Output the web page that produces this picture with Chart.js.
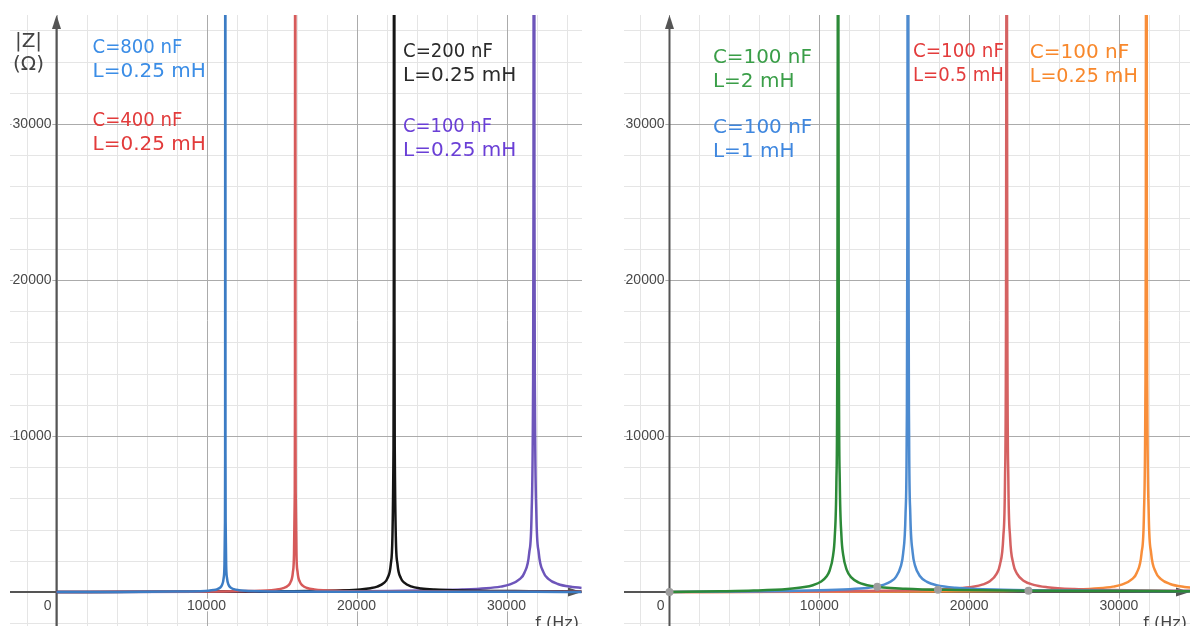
<!DOCTYPE html>
<html>
<head>
<meta charset="utf-8">
<script src="https://cdn.jsdelivr.net/npm/chart.js@4"></script>
<style>
  html, body { margin: 0; padding: 0; background: #fff; width: 1190px; height: 626px; overflow: hidden; }
  canvas { position: absolute; top: 15px; }
  #left { left: 10px; }
  #right { left: 624px; }
</style>
</head>
<body>
<canvas id="left" width="572" height="611"></canvas>
<canvas id="right" width="566" height="611"></canvas>
<script>
// |Z| of the parallel LC circuits (f in Hz, |Z| in ohm)
// frequency samples around each resonance
var freqA = [0, 3376, 5627, 7878, 9003, 9566, 10129, 10466, 10691, 10916, 11029, 11141, 11198, 11231, 11243, 11253,
             11255, 11265, 11277, 11310, 11367, 11479, 11592, 11817, 12154, 12604, 13505, 15756, 19132, 24759, 33762, 35000];
var freqB = [0, 4775, 7958, 11141, 12732, 13528, 14324, 14801, 15119, 15438, 15597, 15756, 15835, 15883, 15899, 15913,
             15917, 15931, 15947, 15995, 16074, 16233, 16392, 16711, 17188, 17825, 19098, 22281, 27056, 35000];
var freqC = [0, 6752, 11254, 15756, 18006, 19132, 20257, 20932, 21383, 21833, 22058, 22283, 22395, 22463, 22485, 22506,
             22510, 22531, 22553, 22621, 22733, 22958, 23183, 23633, 24309, 25209, 27010, 31511, 35000];
var freqD = [0, 9549, 15916, 22282, 25465, 27056, 28648, 29603, 30239, 30876, 31194, 31513, 31672, 31767, 31799, 31828,
             31834, 31863, 31895, 31990, 32149, 32468, 32786, 33423, 34377, 35000];

// left panel, L = 0.25 mH (peaks run off the top, 90000 = off scale)
var zC800 = [0, 6, 12, 24, 39, 54, 84, 122, 172, 290, 438, 880, 1764, 4416, 8836, 90000,
             90000, 8844, 4424, 1772, 888, 446, 299, 181, 115, 78, 48, 26, 16, 10, 7, 6];
var zC400 = [0, 8, 17, 34, 56, 77, 118, 172, 244, 410, 619, 1244, 2494, 6244, 12494, 90000,
             90000, 12506, 6256, 2506, 1256, 631, 423, 256, 162, 110, 68, 36, 22, 14];
var zC200 = [0, 12, 24, 49, 79, 108, 168, 243, 345, 580, 875, 1759, 3527, 8831, 17671, 90000,
             90000, 17689, 8849, 3545, 1777, 893, 598, 362, 230, 156, 96, 52, 39];
var zC100 = [0, 16, 33, 69, 111, 153, 237, 344, 487, 821, 1237, 2488, 4988, 12488, 24988, 90000,
             90000, 25013, 12513, 5013, 2513, 1262, 846, 512, 325, 263];

// right panel, C = 100 nF
var zL2  = [0, 47, 94, 194, 314, 433, 670, 973, 1378, 2321, 3499, 7035, 14104, 35315, 70665, 90000,
            90000, 70735, 35385, 14175, 7105, 3570, 2392, 1449, 918, 623, 386, 206, 127, 81, 53, 51];
var zL1  = [0, 33, 67, 137, 222, 306, 474, 688, 974, 1641, 2475, 4975, 9975, 24975, 49975, 90000,
            90000, 50025, 25025, 10025, 5025, 2525, 1691, 1024, 649, 440, 273, 146, 90, 57];
var zL05 = [0, 23, 47, 97, 157, 217, 335, 487, 689, 1161, 1750, 3518, 7053, 17660, 35337, 90000,
            90000, 35373, 17695, 7089, 3553, 1785, 1196, 724, 459, 311, 193, 103, 78];
var zL025 = [0, 16, 33, 69, 111, 153, 237, 344, 487, 821, 1237, 2488, 4988, 12488, 24988, 90000,
             90000, 25013, 12513, 5013, 2513, 1262, 846, 512, 325, 263];

// grey intersection dots on the right panel
var crossF = [0, 13870, 17920, 23960];
var crossZ = [0, 330, 150, 86];

var tickValues = [10000, 20000, 30000];
var tickLabels = ['10000', '20000', '30000'];
var minorStep = 2000;

function pts(fs, zs) {
  return fs.map(function(f, i) { return { x: f, y: zs[i] }; });
}

function curve(fs, zs, color) {
  return { data: pts(fs, zs), borderColor: color, backgroundColor: color };
}

// curve labels, anchored in data coordinates
var leftNotes = [
  { text: ['C=800 nF', 'L=0.25 mH'], f: 2400,  z: 34550, color: '#3b8de6', w: [90, 116] },
  { text: ['C=400 nF', 'L=0.25 mH'], f: 2400,  z: 29870, color: '#e23b3b', w: [90, 116] },
  { text: ['C=200 nF', 'L=0.25 mH'], f: 23100, z: 34300, color: '#2a2a2a', w: [90, 117] },
  { text: ['C=100 nF', 'L=0.25 mH'], f: 23100, z: 29490, color: '#6a3fd6', w: [89, 117] }
];
var rightNotes = [
  { text: ['C=100 nF', 'L=2 mH'],    f: 2900,  z: 33900, color: '#3a9e48', w: [99, 82] },
  { text: ['C=100 nF', 'L=1 mH'],    f: 2900,  z: 29420, color: '#3f87df', w: [101, 82] },
  { text: ['C=100 nF', 'L=0.5 mH'],  f: 16250, z: 34300, color: '#e33c3c', w: [91, 91] },
  { text: ['C=100 nF', 'L=0.25 mH'], f: 24050, z: 34230, color: '#f8882c', w: [100, 108] }
];

function drawGrid(ctx, a, scale, horizontal, major) {
  var v = Math.ceil(scale.min / minorStep) * minorStep;
  for (; v <= scale.max; v += minorStep) {
    if ((v % 10000 === 0) !== major) continue;
    var p = Math.round(scale.getPixelForValue(v)) + 0.5;
    ctx.beginPath();
    if (horizontal) { ctx.moveTo(p, a.top); ctx.lineTo(p, a.bottom); }
    else { ctx.moveTo(a.left, p); ctx.lineTo(a.right, p); }
    ctx.stroke();
  }
}

function desmosAxes(notes, withYTitle) {
  return {
    id: 'desmosAxes',
    beforeDatasetsDraw: function(chart) {
      var ctx = chart.ctx, a = chart.chartArea;
      var sx = chart.scales.x, sy = chart.scales.y;
      var x0 = sx.getPixelForValue(0), y0 = sy.getPixelForValue(0);
      ctx.save();
      // grid: light every 2000, darker every 10000
      ctx.lineWidth = 1;
      ctx.strokeStyle = '#e5e5e5';
      drawGrid(ctx, a, sx, true, false);
      drawGrid(ctx, a, sy, false, false);
      ctx.strokeStyle = '#ababab';
      drawGrid(ctx, a, sx, true, true);
      drawGrid(ctx, a, sy, false, true);

      // axes
      ctx.strokeStyle = '#555';
      ctx.fillStyle = '#555';
      ctx.lineWidth = 2;
      ctx.beginPath();
      ctx.moveTo(a.left, y0); ctx.lineTo(a.right - 8, y0);
      ctx.moveTo(x0, a.bottom); ctx.lineTo(x0, a.top + 8);
      ctx.stroke();
      // arrow heads
      ctx.beginPath();
      ctx.moveTo(a.right, y0); ctx.lineTo(a.right - 14, y0 - 4.5); ctx.lineTo(a.right - 14, y0 + 4.5);
      ctx.closePath(); ctx.fill();
      ctx.beginPath();
      ctx.moveTo(x0, a.top); ctx.lineTo(x0 - 4.5, a.top + 14); ctx.lineTo(x0 + 4.5, a.top + 14);
      ctx.closePath(); ctx.fill();

      // tick labels with a white halo
      ctx.font = '14px "Liberation Sans", Arial, sans-serif';
      ctx.lineWidth = 3;
      ctx.strokeStyle = '#fff';
      ctx.fillStyle = '#484848';
      ctx.lineJoin = 'round';
      ctx.textAlign = 'center';
      ctx.textBaseline = 'top';
      tickValues.forEach(function(v, i) {
        var px = sx.getPixelForValue(v);
        ctx.strokeText(tickLabels[i], px, y0 + 7);
        ctx.fillText(tickLabels[i], px, y0 + 7);
      });
      ctx.textAlign = 'right';
      ctx.strokeText('0', x0 - 5, y0 + 7);
      ctx.fillText('0', x0 - 5, y0 + 7);
      ctx.textBaseline = 'middle';
      tickValues.forEach(function(v, i) {
        var py = sy.getPixelForValue(v);
        ctx.strokeText(tickLabels[i], x0 - 5, py);
        ctx.fillText(tickLabels[i], x0 - 5, py);
      });

      // axis titles
      ctx.fillStyle = '#444';
      ctx.textBaseline = 'alphabetic';
      ctx.textAlign = 'right';
      ctx.font = '16px "DejaVu Sans", sans-serif';
      ctx.fillText('f (Hz)', a.right - 3, a.bottom + 2);
      if (withYTitle) {
        ctx.textAlign = 'center';
        ctx.font = '20px "DejaVu Sans", sans-serif';
        ctx.fillText('|Z|', x0 - 28, a.top + 32);
        ctx.fillText('(\u03A9)', x0 - 28, a.top + 55);
      }
      ctx.restore();
    },
    afterDatasetsDraw: function(chart) {
      var ctx = chart.ctx, sx = chart.scales.x, sy = chart.scales.y;
      ctx.save();
      ctx.font = '20px "DejaVu Sans", sans-serif';
      ctx.textAlign = 'left';
      ctx.textBaseline = 'alphabetic';
      notes.forEach(function(n) {
        var px = sx.getPixelForValue(n.f), py = sy.getPixelForValue(n.z);
        ctx.fillStyle = n.color;
        n.text.forEach(function(t, i) { ctx.fillText(t, px, py + i * 24, n.w[i]); });
      });
      ctx.restore();
    }
  };
}

function makePanel(id, datasets, xmin, xmax, notes, withYTitle) {
  return new Chart(document.getElementById(id), {
    type: 'line',
    data: { datasets: datasets },
    options: {
      responsive: false,
      animation: false,
      devicePixelRatio: 1,
      layout: { padding: 0, autoPadding: false },
      plugins: { legend: { display: false }, tooltip: { enabled: false } },
      elements: {
        point: { radius: 0 },
        line: { borderWidth: 2.5, cubicInterpolationMode: 'monotone', capBezierPoints: false }
      },
      scales: {
        x: {
          type: 'linear', min: xmin, max: xmax,
          ticks: { display: false },
          grid: { display: false, drawTicks: false },
          border: { display: false },
          afterFit: function(s) { s.height = 0; }
        },
        y: {
          type: 'linear', min: -2180, max: 36990,
          ticks: { display: false },
          grid: { display: false, drawTicks: false },
          border: { display: false },
          afterFit: function(s) { s.width = 0; }
        }
      }
    },
    plugins: [desmosAxes(notes, withYTitle)]
  });
}

// first dataset is drawn on top
makePanel('left', [
  curve(freqA, zC800, '#3c7cc4'),
  curve(freqB, zC400, '#d65a5a'),
  curve(freqC, zC200, '#151515'),
  curve(freqD, zC100, '#6d55ba')
], -3100, 35033, leftNotes, true);

makePanel('right', [
  { data: pts(crossF, crossZ), showLine: false, pointRadius: 4, pointBorderWidth: 0,
    pointBackgroundColor: '#9e9e9e', borderColor: '#9e9e9e' },
  curve(freqA, zL2, '#2c8a38'),
  curve(freqB, zL1, '#4d8bd0'),
  curve(freqC, zL05, '#d56262'),
  curve(freqD, zL025, '#f88e3a')
], -3037, 34746, rightNotes, false);
</script>
</body>
</html>
